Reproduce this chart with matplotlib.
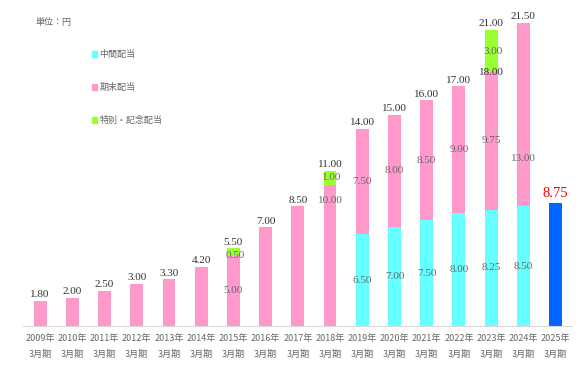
import matplotlib.pyplot as plt
import numpy as np
from matplotlib.patches import Patch

years = ["2009年\n3月期", "2010年\n3月期", "2011年\n3月期", "2012年\n3月期", "2013年\n3月期",
         "2014年\n3月期", "2015年\n3月期", "2016年\n3月期", "2017年\n3月期", "2018年\n3月期",
         "2019年\n3月期", "2020年\n3月期", "2021年\n3月期", "2022年\n3月期", "2023年\n3月期",
         "2024年\n3月期", "2025年\n3月期"]
interim = [0, 0, 0, 0, 0, 0, 0, 0, 0, 0, 6.5, 7.0, 7.5, 8.0, 8.25, 8.5, 0]
year_end = [1.8, 2.0, 2.5, 3.0, 3.3, 4.2, 5.0, 7.0, 8.5, 10.0, 7.5, 8.0, 8.5, 9.0, 9.75, 13.0, 0]
special = [0, 0, 0, 0, 0, 0, 0.5, 0, 0, 1.0, 0, 0, 0, 0, 3.0, 0, 0]
forecast = [0, 0, 0, 0, 0, 0, 0, 0, 0, 0, 0, 0, 0, 0, 0, 0, 8.75]

c_int, c_end, c_sp, c_fc = "#66FFFF", "#FF99CC", "#99FF33", "#0066FF"
num_font = "Liberation Serif"
jp_font = ["Noto Sans CJK JP", "DejaVu Sans"]
gray, dark = "#666666", "#333333"
fs = 8

fig = plt.figure(figsize=(5.86, 3.69), dpi=100)
ax = fig.add_axes([23 / 586, 1 - 326 / 369, 549 / 586, 324.3 / 369])

x = np.arange(len(years))
w = 0.4
interim = np.array(interim)
year_end = np.array(year_end)
special = np.array(special)
forecast = np.array(forecast)

ax.bar(x, interim, w, color=c_int)
ax.bar(x, year_end, w, bottom=interim, color=c_end)
ax.bar(x, special, w, bottom=interim + year_end, color=c_sp)
ax.bar(x, forecast, w, color=c_fc)

total = interim + year_end + special
for i in range(len(x)):
    if forecast[i] > 0:
        ax.text(x[i], forecast[i] + 0.2, f"{forecast[i]:.2f}", ha="center", va="bottom",
                color="#FF0000", fontsize=10.5, family=num_font)
        continue
    ax.text(x[i], total[i] + 0.1, f"{total[i]:.2f}", ha="center", va="bottom",
            color=dark, fontsize=fs, family=num_font)
    if interim[i] > 0:
        ax.text(x[i], interim[i] / 2, f"{interim[i]:.2f}", ha="center", va="center",
                color=gray, fontsize=fs, family=num_font)
    if interim[i] > 0 or special[i] > 0:
        ye = interim[i] + year_end[i] / 2
        if year_end[i] >= 10:
            ye = year_end[i] - 1.1
        ax.text(x[i], ye, f"{year_end[i]:.2f}", ha="center", va="center",
                color=gray, fontsize=fs, family=num_font)
    if special[i] > 0:
        sy = interim[i] + year_end[i] + special[i] / 2
        if special[i] < 1:
            sy = interim[i] + year_end[i]
        ax.text(x[i] + 0.05, sy, f"{special[i]:.2f}",
                ha="center", va="center", color=gray, fontsize=fs, family=num_font)
        if interim[i] > 0:
            ax.text(x[i], interim[i] + year_end[i], f"{interim[i] + year_end[i]:.2f}",
                    ha="center", va="center", color=dark, fontsize=fs, family=num_font)

ax.set_xlim(-0.53, 16.51)
ax.set_ylim(0, 23)
ax.set_xticks(x)
ax.set_xticklabels(years, fontsize=6.5, color=gray, family=jp_font, linespacing=1.9)
ax.tick_params(axis="x", length=0, pad=6)
ax.set_yticks([])
for s in ["top", "right", "left"]:
    ax.spines[s].set_visible(False)
ax.spines["bottom"].set_color("#D9D9D9")

fig.text(35 / 586, 1 - 22 / 369, "単位：円", fontsize=6.5, color=gray, family=jp_font, va="center")

handles = [Patch(color=c_int), Patch(color=c_end), Patch(color=c_sp)]
fig.legend(handles, ["中間配当", "期末配当", "特別・記念配当"], loc="upper left",
           bbox_to_anchor=(84 / 586, 1 - 42 / 369), frameon=False,
           prop={"family": jp_font, "size": 6.5}, labelcolor=gray,
           handlelength=0.5, handleheight=0.5, handletextpad=0.3, labelspacing=2.65)

fig.savefig("out.png", dpi=100)
